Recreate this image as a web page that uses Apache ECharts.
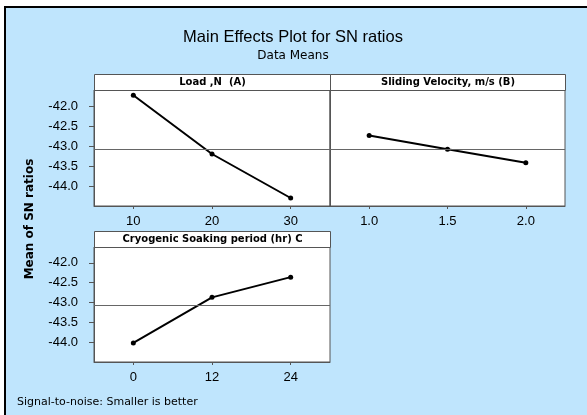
<!DOCTYPE html>
<html>
<head>
<meta charset="utf-8">
<script src="https://cdn.jsdelivr.net/npm/echarts@6/dist/echarts.min.js"></script>
<style>
  html, body { margin: 0; padding: 0; background: #fff; }
  #chart { width: 587px; height: 415px; }
</style>
</head>
<body>
<div id="chart"></div>
<script>
// factor levels and mean SN ratios
const loadLevels = [10, 20, 30];
const loadSN = [-41.73, -43.2, -44.3];
const velocityLevels = [1.0, 1.5, 2.0];
const velocitySN = [-42.74, -43.08, -43.42];
const soakLevels = [0, 12, 24];
const soakSN = [-44.02, -42.87, -42.36];
const panelTitles = ['Load ,N  (A)', 'Sliding Velocity, m/s (B)', 'Cryogenic Soaking period (hr) C'];
const yTicks = [-44.0, -43.5, -43.0, -42.5, -42.0];
const overallMean = -43.08;

const chart = echarts.init(document.getElementById('chart'));

const frame = '#555';
const tickFont = { fontFamily: 'Liberation Sans', fontSize: 13, color: '#000' };

function xAxis(gridIndex, levels, min, max, digits) {
    return {
        type: 'value', gridIndex: gridIndex, min: min, max: max,
        axisLine: { show: true, onZero: false, lineStyle: { color: frame } },
        splitLine: { show: false },
        axisTick: { show: true, length: 3, customValues: levels, lineStyle: { color: frame } },
        axisLabel: Object.assign({ margin: 9, customValues: levels,
            formatter: v => v.toFixed(digits) }, tickFont)
    };
}

function yAxis(gridIndex, labels) {
    return {
        type: 'value', gridIndex: gridIndex, min: -44.5, max: -41.6,
        axisLine: { show: true, onZero: false, lineStyle: { color: frame } },
        splitLine: { show: false },
        axisTick: { show: labels, length: 5, customValues: yTicks, lineStyle: { color: frame } },
        axisLabel: Object.assign({ show: labels, margin: 16, customValues: yTicks,
            formatter: v => v.toFixed(1) }, tickFont)
    };
}

function series(i, levels, values) {
    return {
        type: 'line', xAxisIndex: i, yAxisIndex: i,
        data: levels.map((x, k) => [x, values[k]]),
        symbol: 'circle', symbolSize: 5,
        lineStyle: { color: '#000', width: 2 },
        itemStyle: { color: '#000' },
        markLine: {
            silent: true, symbol: 'none', label: { show: false },
            lineStyle: { color: '#666', width: 1, type: 'solid' },
            data: [{ yAxis: overallMean }]
        }
    };
}

function header(x, y, w, text) {
    return {
        type: 'group', left: x, top: y,
        children: [
            { type: 'rect', shape: { x: 0, y: 0, width: w, height: 16 },
              style: { fill: '#fff', stroke: frame, lineWidth: 1 } },
            { type: 'text', x: w / 2, y: 8,
              style: { text: text, fill: '#000', font: 'bold 10px "DejaVu Sans"',
                       align: 'center', verticalAlign: 'middle' } }
        ]
    };
}

chart.setOption({
    animation: false,
    backgroundColor: '#fff',
    title: [
        { text: 'Main Effects Plot for SN ratios', left: 293, top: 29, textAlign: 'center', padding: 0,
          textStyle: { fontFamily: 'Liberation Sans', fontSize: 16.5, fontWeight: 'normal', color: '#000' } },
        { text: 'Data Means', left: 293, top: 50, textAlign: 'center', padding: 0,
          textStyle: { fontFamily: 'DejaVu Sans', fontSize: 12, fontWeight: 'normal', color: '#000' } },
        { text: 'Signal-to-noise: Smaller is better', left: 17, top: 397, padding: 0,
          textStyle: { fontFamily: 'DejaVu Sans', fontSize: 11, fontWeight: 'normal', color: '#000' } }
    ],
    graphic: [
        { type: 'rect', z: -10, shape: { x: 5, y: 7, width: 600, height: 420 },
          style: { fill: '#BFE5FD', stroke: '#000', lineWidth: 2 } },
        header(94, 74, 236, panelTitles[0]),
        header(330, 74, 235, panelTitles[1]),
        header(94, 231, 236, panelTitles[2]),
        { type: 'text', x: 30, y: 219, rotation: Math.PI / 2,
          style: { text: 'Mean of SN ratios', fill: '#000', font: 'bold 12px "DejaVu Sans"',
                   align: 'center', verticalAlign: 'middle' } }
    ],
    grid: [
        { left: 94, top: 90, width: 236, height: 116, show: true, backgroundColor: '#fff', borderColor: frame },
        { left: 330, top: 90, width: 235, height: 116, show: true, backgroundColor: '#fff', borderColor: frame },
        { left: 94, top: 247, width: 236, height: 115, show: true, backgroundColor: '#fff', borderColor: frame }
    ],
    xAxis: [
        xAxis(0, loadLevels, 5, 35, 0),
        xAxis(1, velocityLevels, 0.75, 2.25, 1),
        xAxis(2, soakLevels, -6, 30, 0)
    ],
    yAxis: [yAxis(0, true), yAxis(1, false), yAxis(2, true)],
    series: [
        series(0, loadLevels, loadSN),
        series(1, velocityLevels, velocitySN),
        series(2, soakLevels, soakSN)
    ]
});
</script>
</body>
</html>
